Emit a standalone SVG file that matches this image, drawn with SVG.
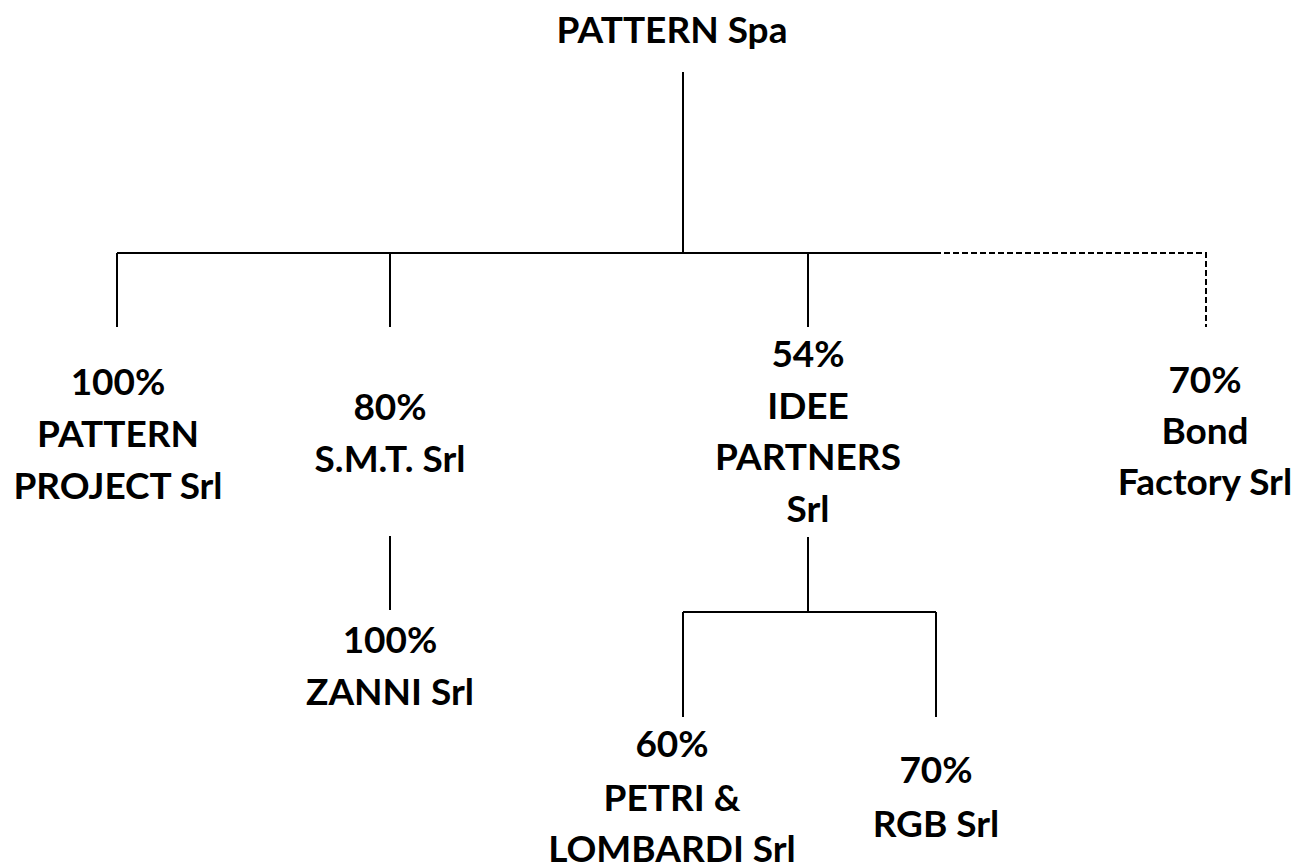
<svg xmlns="http://www.w3.org/2000/svg" width="1301" height="864" viewBox="0 0 1301 864">
<style>
text{font-family:Lato,"Open Sans","Liberation Sans",sans-serif;font-weight:bold;font-size:37px;fill:#000;text-anchor:middle}
.ln{stroke:#000;stroke-width:2;fill:none}
.ds{stroke:#000;stroke-width:2;fill:none;stroke-dasharray:6 3}
</style>
<rect width="1301" height="864" fill="#fff"/>
<g id="connectors">
<path class="ln" d="M683 72V253M117 253H935M117 253V327M390 253V327M808 253V327"/>
<path class="ds" d="M935 253H1206V327"/>
<path class="ln" d="M390 536V610"/>
<path class="ln" d="M808 537V612M683 612H936M683 612V717M936 612V717"/>
</g>
<g id="pattern-spa"><text x="672" y="43">PATTERN Spa</text></g>
<g id="pattern-project"><text x="118" y="395">100%</text><text x="118" y="447">PATTERN</text><text x="118" y="499">PROJECT Srl</text></g>
<g id="smt"><text x="390" y="420">80%</text><text x="390" y="472">S.M.T. Srl</text></g>
<g id="idee"><text x="808" y="367">54%</text><text x="808" y="419">IDEE</text><text x="808" y="470">PARTNERS</text><text x="808" y="522">Srl</text></g>
<g id="bond"><text x="1205" y="393">70%</text><text x="1205" y="444">Bond</text><text x="1205" y="495">Factory Srl</text></g>
<g id="zanni"><text x="390" y="653">100%</text><text x="390" y="705">ZANNI Srl</text></g>
<g id="petri"><text x="672" y="757">60%</text><text x="672" y="811">PETRI &amp;</text><text x="672" y="862">LOMBARDI Srl</text></g>
<g id="rgb"><text x="936" y="783">70%</text><text x="936" y="837">RGB Srl</text></g>
</svg>
